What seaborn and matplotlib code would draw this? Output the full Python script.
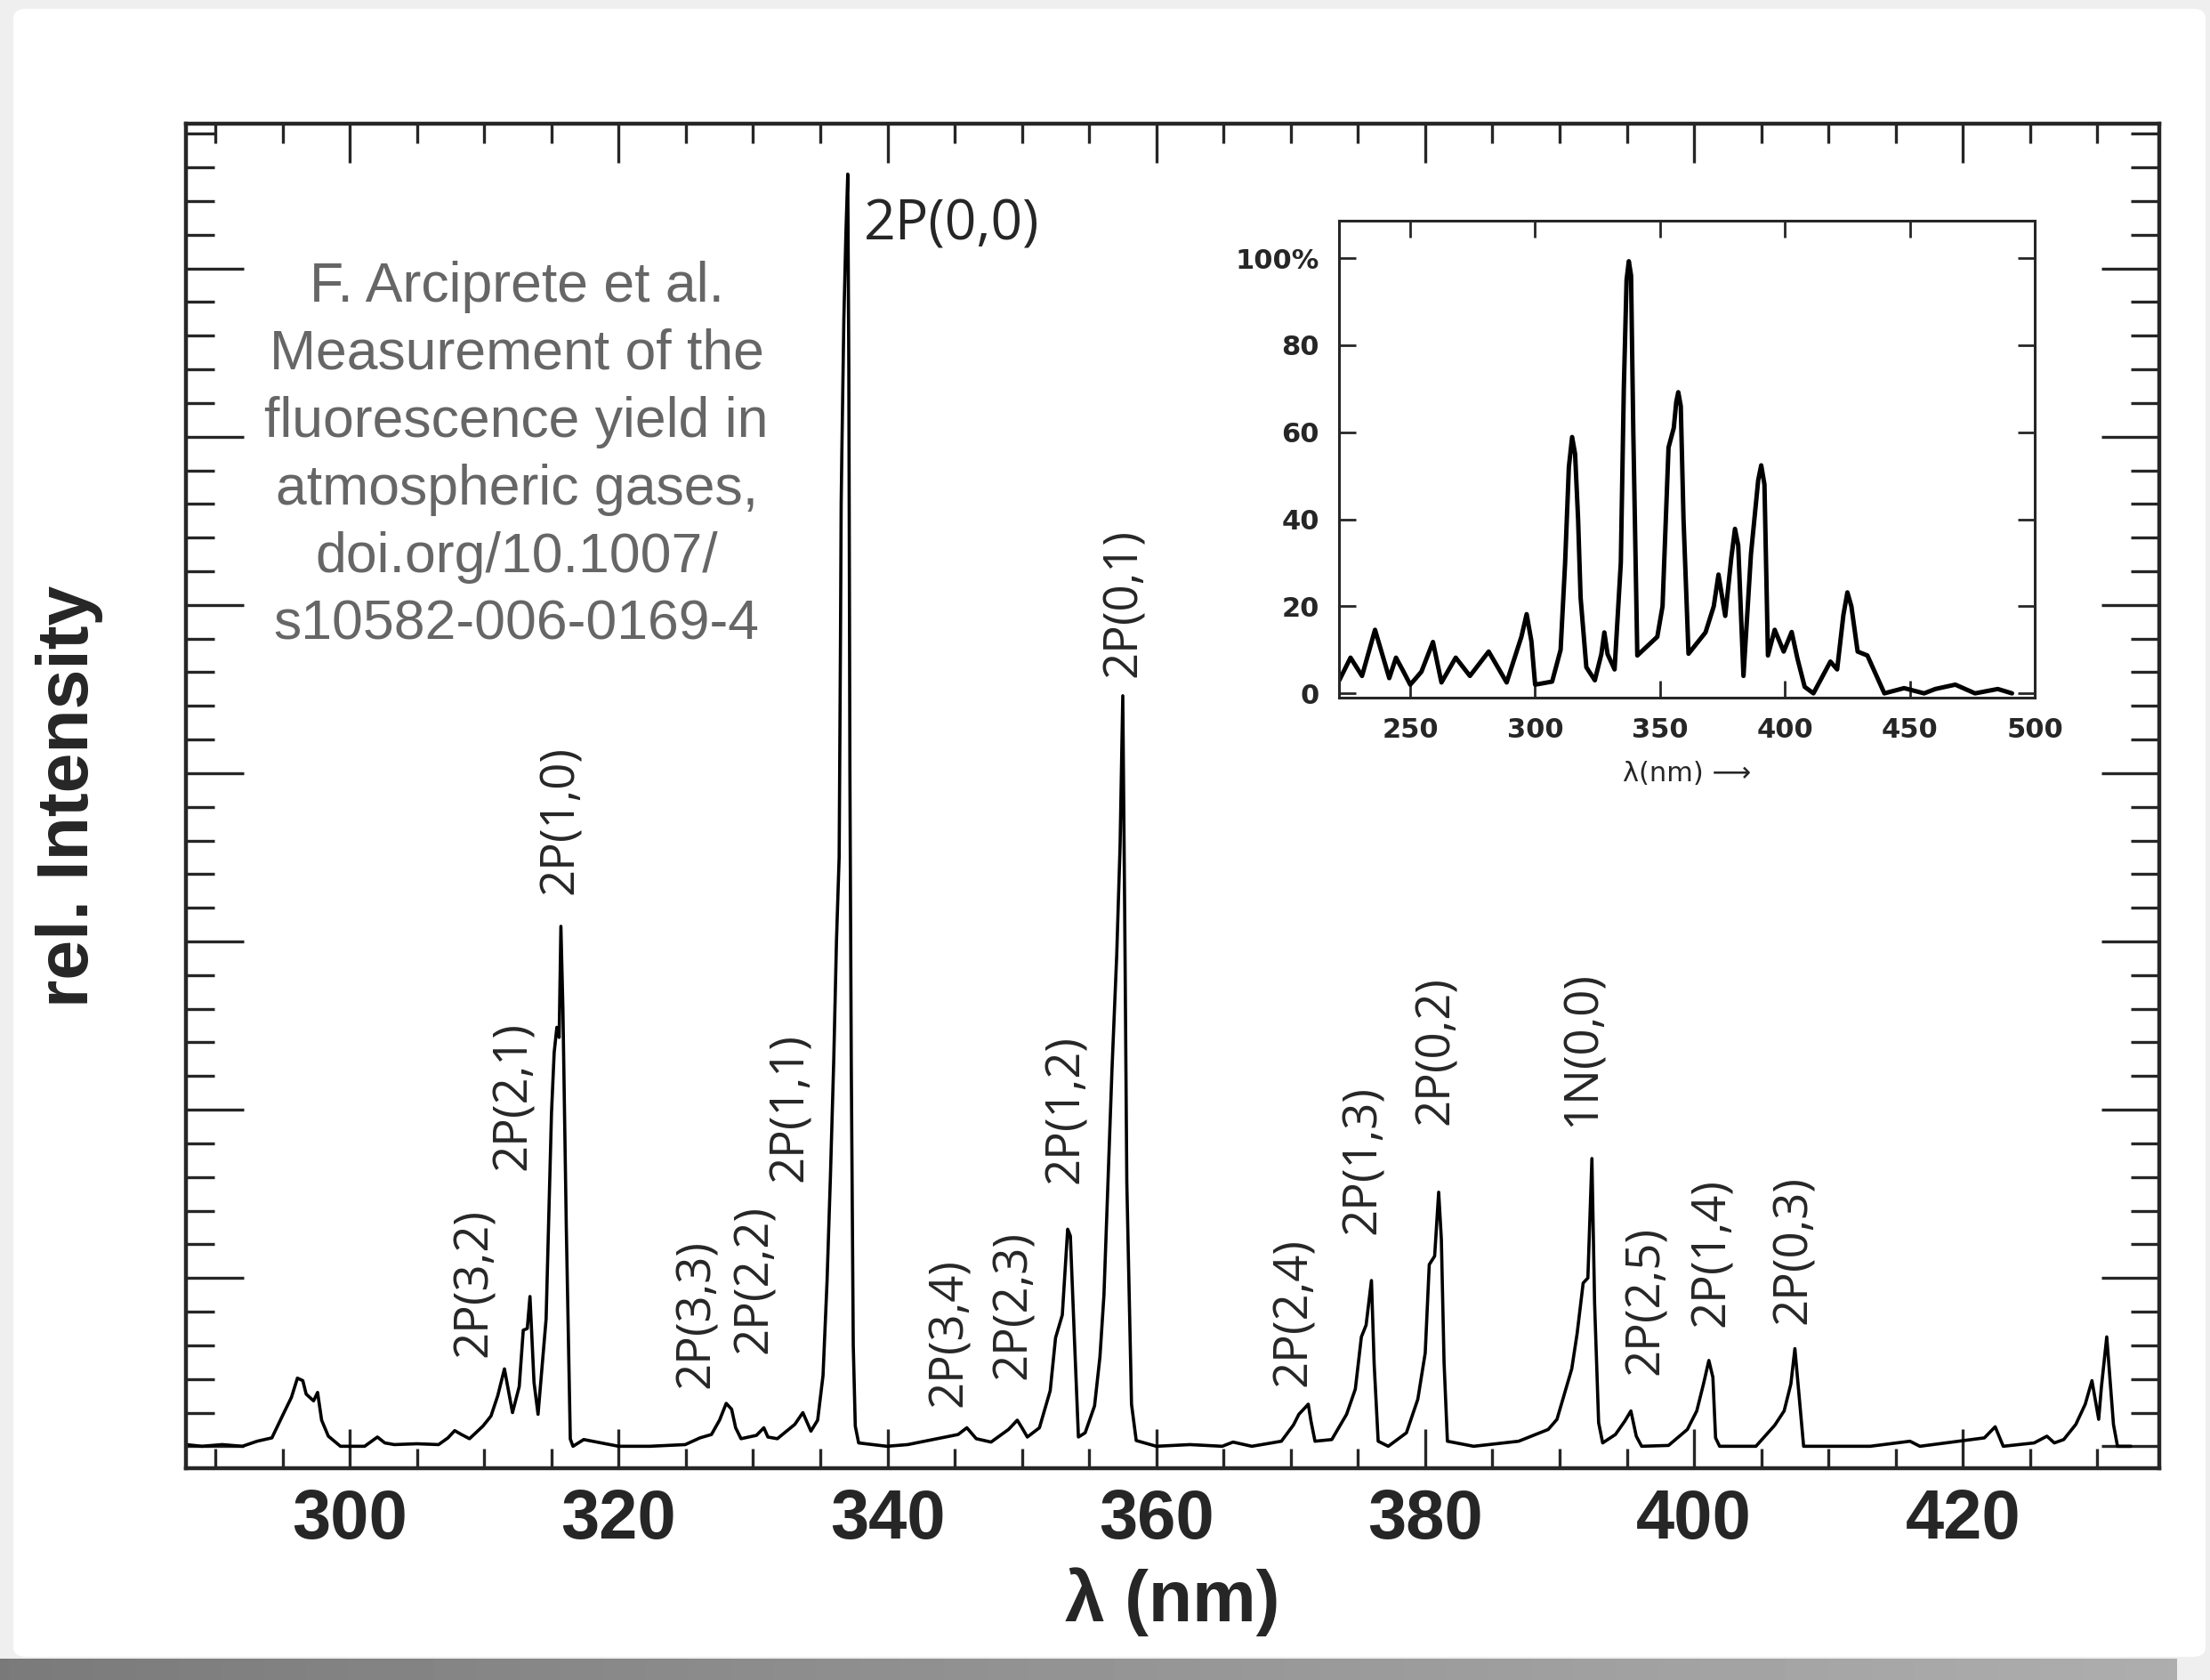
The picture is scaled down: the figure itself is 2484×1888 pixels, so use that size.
import matplotlib
matplotlib.use("Agg")
import numpy as np
import pandas as pd
import matplotlib.pyplot as plt
import seaborn as sns
from matplotlib.ticker import MultipleLocator
from matplotlib.patches import FancyBboxPatch

# main N2 fluorescence spectrum, intensity in tick units
wavelength = [287.8, 289.0, 290.5, 292.0, 293.1, 294.2, 295.1, 295.65, 296.1, 296.5,
              296.75, 297.3, 297.6, 297.9, 298.4, 299.3, 301.1, 302.05, 302.6, 303.3,
              305.0, 306.6, 307.3, 307.8, 308.3, 308.9, 309.9, 310.5, 311.0, 311.5,
              311.8, 312.1, 312.6, 312.9, 313.2, 313.4, 313.7, 314.0, 314.6, 315.0,
              315.2, 315.4, 315.57, 315.7, 315.85, 316.1, 316.4, 316.6, 317.4, 318.7,
              320.0, 322.3, 324.95, 326.05, 326.9, 327.5, 328.0, 328.4, 328.7, 329.1,
              330.25, 330.8, 331.1, 331.8, 333.1, 333.7, 334.3, 334.8, 335.2, 335.5,
              335.75, 336.0, 336.2, 336.4, 336.5, 336.55, 336.6, 336.75, 336.9, 337.04,
              337.12, 337.2, 337.3, 337.45, 337.6, 337.85, 339.95, 341.5, 343.7, 345.25,
              345.9, 346.6, 347.7, 349.0, 349.65, 350.0, 350.4, 351.3, 352.1, 352.5,
              353.0, 353.4, 353.6, 353.9, 354.2, 354.7, 355.4, 355.8, 356.1, 356.7,
              357.05, 357.3, 357.5, 357.65, 357.8, 358.15, 358.5, 360.0, 362.5, 364.9,
              365.7, 367.1, 369.3, 370.2, 370.6, 371.3, 371.5, 371.8, 373.05, 374.15,
              374.8, 375.25, 375.6, 376.0, 376.2, 376.5, 377.25, 378.6, 379.45, 380.0,
              380.3, 380.7, 381.0, 381.2, 381.4, 381.65, 383.6, 386.95, 389.15, 389.8,
              390.5, 390.9, 391.3, 391.75, 392.1, 392.4, 392.6, 392.9, 393.2, 394.15,
              394.85, 395.3, 395.7, 396.1, 398.1, 399.5, 400.2, 400.7, 401.1, 401.4,
              401.6, 401.9, 404.6, 406.0, 406.7, 407.2, 407.5, 407.9, 408.15, 413.1,
              416.06, 416.8, 421.6, 422.4, 423.0, 425.3, 426.25, 426.8, 427.5, 428.4,
              429.1, 429.6, 430.1, 430.3, 430.7, 431.2, 431.5, 432.5]
intensity = [0.01, 0.0, 0.01, 0.0, 0.03, 0.05, 0.20, 0.29, 0.405, 0.39,
             0.31, 0.27, 0.32, 0.155, 0.06, 0.0, 0.0, 0.055, 0.02, 0.01,
             0.015, 0.01, 0.05, 0.093, 0.07, 0.045, 0.12, 0.18, 0.30, 0.46,
             0.33, 0.20, 0.355, 0.69, 0.70, 0.89, 0.38, 0.19, 0.757, 1.98,
             2.34, 2.49, 2.43, 3.09, 2.6, 1.31, 0.043, 0.0, 0.04, 0.02,
             0.0, 0.0, 0.01, 0.05, 0.07, 0.155, 0.255, 0.22, 0.11, 0.045,
             0.065, 0.11, 0.055, 0.045, 0.13, 0.20, 0.09, 0.155, 0.42, 0.98,
             1.6, 2.3, 3.0, 3.5, 4.8, 5.6, 5.9, 6.7, 7.2, 7.56,
             6.4, 4.0, 2.3, 0.6, 0.12, 0.02, 0.0, 0.01, 0.045, 0.07,
             0.11, 0.045, 0.025, 0.10, 0.155, 0.11, 0.055, 0.11, 0.33, 0.645,
             0.78, 1.29, 1.25, 0.645, 0.055, 0.08, 0.24, 0.53, 0.9, 2.245,
             2.92, 3.57, 4.46, 3.1, 1.57, 0.25, 0.034, 0.0, 0.01, 0.0,
             0.025, 0.0, 0.03, 0.127, 0.19, 0.25, 0.15, 0.03, 0.04, 0.19,
             0.34, 0.65, 0.72, 0.985, 0.49, 0.03, 0.0, 0.08, 0.28, 0.555,
             1.08, 1.13, 1.51, 1.23, 0.5, 0.03, 0.0, 0.03, 0.1, 0.16,
             0.35, 0.46, 0.67, 0.97, 1.0, 1.71, 0.85, 0.14, 0.02, 0.07,
             0.15, 0.21, 0.06, 0.0, 0.005, 0.1, 0.21, 0.37, 0.51, 0.41,
             0.05, 0.0, 0.0, 0.125, 0.21, 0.37, 0.58, 0.22, 0.0, 0.0,
             0.03, 0.0, 0.05, 0.116, 0.0, 0.02, 0.06, 0.02, 0.04, 0.13,
             0.25, 0.39, 0.16, 0.35, 0.65, 0.13, 0.0, 0.0]

# band labels (rotated), anchored at their lower end
band_names = ["2P(3,2)", "2P(2,1)", "2P(1,0)", "2P(3,3)", "2P(2,2)", "2P(1,1)",
              "2P(3,4)", "2P(2,3)", "2P(1,2)", "2P(0,1)", "2P(2,4)", "2P(1,3)",
              "2P(0,2)", "1N(0,0)", "2P(2,5)", "2P(1,4)", "2P(0,3)"]
band_x = [309.25, 312.2, 315.7, 325.8, 330.1, 332.75, 344.6, 349.4, 353.3, 357.55,
          370.2, 375.35, 380.8, 391.7, 396.4, 401.35, 407.4]
band_y = [0.53, 1.64, 3.28, 0.345, 0.55, 1.57, 0.233, 0.40, 1.56, 4.57,
          0.357, 1.26, 1.91, 1.90, 0.425, 0.71, 0.725]
top_band = "2P(0,0)"
top_band_x = 338.2
top_band_y = 7.42

credit = ("F. Arciprete et al.\nMeasurement of the\nfluorescence yield in\n"
          "atmospheric gases,\ndoi.org/10.1007/\ns10582-006-0169-4")

x_ticks = [300, 320, 340, 360, 380, 400, 420]

# inset: older, low-resolution spectrum in percent
inset_nm = [221.6, 226.1, 230.7, 235.9, 241.6, 244.3, 247.3, 250.0, 252.3, 254.5,
            259.1, 262.5, 268.2, 273.9, 281.4, 288.6, 294.5, 296.6, 298.5, 300.0,
            306.8, 310.2, 312.0, 313.5, 314.8, 316.0, 317.2, 318.2, 320.5, 323.9,
            326.5, 327.7, 329.0, 331.8, 334.3, 335.5, 336.6, 337.5, 338.4, 339.3,
            340.9, 348.9, 351.0, 353.4, 355.5, 356.5, 357.3, 358.3, 359.4, 361.4,
            368.2, 371.5, 373.4, 376.1, 378.5, 380.0, 381.3, 383.4, 386.4, 389.3,
            390.5, 391.8, 393.2, 395.9, 399.5, 402.7, 405.0, 407.9, 411.4, 418.2,
            420.9, 423.4, 425.0, 426.6, 429.1, 433.0, 439.8, 447.7, 455.7, 460.2,
            468.2, 476.1, 485.2, 490.9]
inset_pct = [3.0, 8.2, 4.0, 14.6, 3.5, 8.2, 5.0, 2.0, 3.5, 5.0,
             11.8, 2.5, 8.2, 4.0, 9.6, 2.5, 13.0, 18.2, 12.0, 2.0,
             2.7, 10.0, 30.0, 52.0, 58.9, 55.0, 40.0, 22.0, 6.0, 3.0,
             9.0, 14.0, 9.0, 5.5, 30.0, 70.0, 95.0, 99.3, 96.0, 60.0,
             8.7, 13.0, 20.0, 56.5, 61.0, 67.0, 69.2, 66.0, 40.0, 9.1,
             14.0, 20.0, 27.3, 17.8, 31.0, 37.8, 34.0, 4.0, 32.0, 49.0,
             52.4, 48.0, 8.7, 14.6, 9.6, 14.1, 8.0, 1.5, 0.0, 7.3,
             5.5, 18.0, 23.2, 20.0, 9.6, 8.7, 0.0, 1.2, 0.0, 1.0,
             2.0, 0.0, 1.0, 0.0]
inset_x_ticks = [250, 300, 350, 400, 450, 500]
inset_y_ticks = [0, 20, 40, 60, 80, 100]
inset_y_labels = ["0", "20", "40", "60", "80", "100%"]

sns.set_style("ticks")
plt.rcParams['font.family'] = ['Liberation Sans', 'DejaVu Sans']

fig = plt.figure(figsize=(12.42, 9.44), dpi=200)
fig.patch.set_facecolor('#efefef')

# paper sheet look: shadow strip under the sheet, then the sheet
shadow_ax = fig.add_axes([0.0, 0.0, 0.985, 0.0125])
shadow_ax.imshow(np.linspace(0.48, 0.68, 256)[None, :], cmap='gray', vmin=0, vmax=1,
                 aspect='auto', extent=(0, 1, 0, 1))
shadow_ax.set_axis_off()
fig.add_artist(FancyBboxPatch((0.006, 0.0138), 0.992, 0.981,
                              boxstyle="round,pad=0,rounding_size=0.006",
                              transform=fig.transFigure, facecolor='white',
                              edgecolor='none', zorder=-2))

ax = fig.add_axes([0.0841, 0.1261, 0.8929, 0.8003])
spec = pd.DataFrame({"nm": wavelength, "intensity": intensity})
sns.lineplot(data=spec, x="nm", y="intensity", ax=ax, color='black',
             linewidth=1.3, estimator=None, sort=False)
ax.set_xlim(287.8, 434.6)
ax.set_ylim(-0.13, 7.86)
ax.set_xticks(x_ticks, labels=[str(v) for v in x_ticks],
              fontsize=28, fontweight='bold')
ax.xaxis.set_minor_locator(MultipleLocator(5))
ax.yaxis.set_major_locator(MultipleLocator(1))
ax.yaxis.set_minor_locator(MultipleLocator(0.2))
ax.tick_params(axis='x', which='major', direction='in', length=16, width=1.2,
               top=True, bottom=True, pad=8)
ax.tick_params(axis='x', which='minor', direction='in', length=8, width=1.2,
               top=True, bottom=True)
ax.tick_params(axis='y', which='major', direction='in', length=23.4, width=1.2,
               left=True, right=True, labelleft=False)
ax.tick_params(axis='y', which='minor', direction='in', length=11.5, width=1.2,
               left=True, right=True)
for s in ax.spines.values():
    s.set_linewidth(1.6)
    s.set_visible(True)
ax.set_xlabel("λ (nm)", fontsize=29, fontweight='bold', labelpad=6)
ax.set_ylabel("rel. Intensity", fontsize=29, fontweight='bold', labelpad=30)

for name, bx, by in zip(band_names, band_x, band_y):
    ax.text(bx, by, name, rotation=90, ha='center', va='bottom',
            fontsize=19, family='Open Sans')
ax.text(top_band_x, top_band_y, top_band, ha='left', va='top',
        fontsize=22.5, family='Open Sans')

ax.text(312.4, 5.885, credit, ha='center', va='center', fontsize=22.5,
        color='#666666', linespacing=1.37)

# inset
axi = fig.add_axes([0.6059, 0.5847, 0.3148, 0.2839])
ins = pd.DataFrame({"nm": inset_nm, "pct": inset_pct})
sns.lineplot(data=ins, x="nm", y="pct", ax=axi, color='black',
             linewidth=1.8, estimator=None, sort=False)
axi.set_xlim(221.5, 500)
axi.set_ylim(-1, 108.6)
axi.set_xticks(inset_x_ticks, labels=[str(v) for v in inset_x_ticks])
axi.set_yticks(inset_y_ticks, labels=inset_y_labels)
axi.tick_params(direction='in', length=7, width=1.0, top=True, right=True,
                labelsize=11, pad=8)
for lab in axi.get_xticklabels() + axi.get_yticklabels():
    lab.set_family('DejaVu Sans')
    lab.set_fontweight('bold')
for s in axi.spines.values():
    s.set_linewidth(1.1)
axi.set_xlabel("λ(nm) ⟶", fontsize=11, family='DejaVu Sans', labelpad=7)
axi.set_ylabel("")

fig.savefig("out.png", dpi=200, facecolor=fig.get_facecolor())
